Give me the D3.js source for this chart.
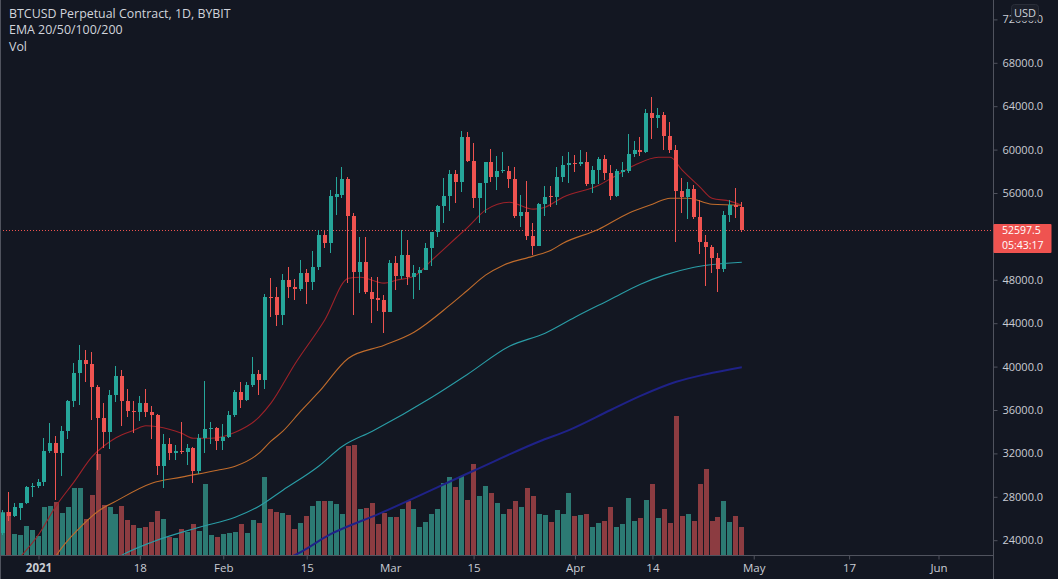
<!DOCTYPE html>
<html>
<head>
<meta charset="utf-8">
<script src="https://cdn.jsdelivr.net/npm/d3@7"></script>
<style>
  html, body { margin: 0; padding: 0; background: #131722; overflow: hidden; }
  svg { display: block; }
  text { font-family: "Open Sans", "Noto Sans", sans-serif; }
</style>
</head>
<body>
<div id="chart"></div>
<script>
// Daily candles from 2020-12-26 to 2021-04-29 (one value per day)
var firstDay = "2020-12-26", lastDay = "2021-04-29";

var open = [
  24700, 26600, 26250, 27000, 27400, 28900,
  29000, 29400, 32200, 33000, 32000, 34100, 36800, 39400, 40600, 40250, 38150, 35300, 34000, 37400, 39100, 36800,
  35950, 35850, 36650, 35850, 35500, 30800, 32900, 32050, 32250, 32150, 32500, 30400, 33450, 34250, 34300,
  33100, 33500, 35500, 37700, 36900, 38300, 39300, 38800, 46450, 46400, 44800, 47950, 47300, 47150, 48600, 47800,
  49150, 52100, 51400, 55650, 55800, 57300, 53900, 48700, 49650, 46900, 46300, 46100,
  45050, 49550, 48350, 50300, 48300, 48650, 48900, 50900, 52400, 54800, 55700, 57750, 57050, 61200, 58950, 55500,
  56900, 58900, 57500, 58000, 58030, 57250, 53900, 54250, 52050, 51150, 54950, 55700, 55650, 57500, 58600,
  58750, 58700, 58900, 56850, 58150, 59150, 57850, 55700, 57950, 58000, 59600, 60000, 59750, 63400, 62900, 63200,
  61250, 60000, 56150, 55600, 56350, 53800, 51500, 51000, 50000, 48950, 53950, 54900, 54750
];
var high = [
  26800, 28400, 27400, 27400, 28970, 29300,
  29600, 33400, 34800, 33600, 34500, 36900, 40300, 41950, 41500, 41300, 38300, 36600, 37800, 40100, 39700, 37900,
  36800, 37300, 37900, 36400, 35600, 33800, 33400, 32800, 34900, 32900, 32600, 33800, 38700, 34900, 34400,
  34700, 35900, 37800, 38600, 38600, 40900, 39700, 46700, 48200, 47300, 48500, 49200, 48100, 49800, 49000, 50700,
  52600, 52600, 56300, 57500, 58400, 57500, 54200, 51900, 51900, 48300, 48300, 46600,
  49800, 50200, 52600, 51700, 49400, 49200, 51400, 52400, 54900, 57400, 58100, 58100, 61700, 61600, 60600, 56900,
  58900, 60100, 59400, 59800, 58500, 58400, 55800, 57100, 53200, 55100, 56600, 56600, 58400, 59400, 59800,
  59500, 60000, 59800, 58500, 59300, 59500, 58600, 58200, 58900, 61400, 60800, 61200, 63700, 64850, 63800, 63500,
  62500, 60400, 57400, 57000, 56700, 55400, 52100, 51200, 50500, 54300, 55400, 56450, 55200
];
var low = [
  24500, 25800, 26100, 25900, 27300, 28000,
  28800, 29000, 32000, 27700, 29900, 33300, 36300, 36500, 38600, 35100, 30500, 32500, 32400, 36700, 34500, 35400,
  33900, 35000, 35400, 33300, 30000, 28800, 31400, 31400, 31900, 30900, 29300, 30100, 32000, 32900, 32300,
  32300, 33400, 35400, 36200, 36800, 38100, 37400, 37900, 44600, 43700, 43800, 46300, 46100, 47000, 45800, 47100,
  48900, 50900, 50500, 53950, 55500, 47700, 44800, 46800, 46700, 44000, 45100, 43100,
  45000, 47100, 48100, 47500, 46200, 47100, 48900, 49300, 51900, 53200, 54300, 55100, 56100, 58900, 54600, 53200,
  54200, 57000, 56300, 57800, 56500, 53700, 52900, 51700, 50300, 51100, 53900, 54700, 54900, 57000, 56900,
  57900, 58500, 56600, 56000, 56800, 57200, 55400, 55600, 57500, 57800, 59300, 59400, 59700, 61000, 62000, 60000,
  59700, 51500, 54200, 53600, 53600, 50400, 47400, 48600, 46900, 48700, 53300, 53650, 52400
];
var close = [
  26500, 26200, 27050, 27400, 28900, 29000,
  29400, 32200, 33000, 32000, 34100, 36800, 39400, 40600, 40250, 38150, 35300, 34000, 37400, 39100, 36800, 35900,
  35850, 36650, 35850, 35500, 30800, 32900, 32050, 32250, 32150, 32500, 30400, 33450, 34250, 34300, 33100,
  33500, 35500, 37700, 36900, 38300, 39300, 38800, 46400, 46400, 44800, 47950, 47300, 47150, 48600, 47800, 49150,
  52100, 51400, 55700, 55900, 57300, 53900, 48700, 49650, 46900, 46200, 46100, 45050,
  49550, 48350, 50300, 48300, 48650, 48900, 50900, 52400, 54800, 55700, 57750, 57050, 61200, 58950, 55500, 56900,
  58900, 57500, 58000, 58100, 57250, 53900, 54250, 52050, 51150, 54950, 55650, 55650, 57500, 58600, 58750,
  58700, 58900, 56850, 58150, 59150, 57850, 55700, 58050, 58100, 59600, 60000, 59800, 63400, 62900, 63200, 61250,
  60000, 56150, 55600, 56350, 53800, 51500, 51000, 50000, 48950, 53950, 54900, 54750, 52597.5
];
var volume = [
  43, 43, 21, 20, 29, 25,
  19, 48, 49, 53, 42, 48, 67, 67, 36, 60, 101, 50, 48, 41, 49, 35, 30, 27, 28, 33, 44, 36, 18, 17, 26, 23, 31, 24, 71, 20, 18,
  21, 22, 23, 31, 22, 35, 32, 78, 46, 43, 42, 40, 26, 32, 39, 49, 54, 54, 54, 51, 41, 109, 110, 46, 47, 52, 31, 42,
  38, 38, 46, 54, 46, 28, 33, 41, 46, 72, 78, 68, 79, 55, 91, 59, 69, 62, 52, 41, 46, 54, 48, 67, 59, 41, 40, 33, 45, 41, 62,
  39, 40, 41, 28, 32, 34, 48, 28, 31, 57, 34, 37, 55, 71, 37, 46, 32, 139, 39, 41, 34, 71, 86, 34, 38, 54, 33, 39, 28
];

// EMA lines
var ema20 = [
  ["2020-12-28", 21900], ["2021-01-01", 24500], ["2021-01-04", 27200], ["2021-01-07", 29400], ["2021-01-10", 31700],
  ["2021-01-12", 32700], ["2021-01-14", 33450], ["2021-01-17", 34140], ["2021-01-19", 34550], ["2021-01-21", 34450],
  ["2021-01-25", 33860], ["2021-01-27", 33400], ["2021-01-30", 33400], ["2021-02-03", 33950], ["2021-02-07", 35340],
  ["2021-02-09", 36630], ["2021-02-13", 40220], ["2021-02-18", 44280], ["2021-02-22", 48150], ["2021-02-24", 48240],
  ["2021-02-28", 47690], ["2021-03-02", 47960], ["2021-03-05", 48330], ["2021-03-08", 49810], ["2021-03-12", 51830],
  ["2021-03-14", 52840], ["2021-03-17", 54420], ["2021-03-21", 55150], ["2021-03-25", 54510], ["2021-03-27", 54690],
  ["2021-03-30", 55610], ["2021-04-05", 56720], ["2021-04-08", 57640], ["2021-04-11", 58560], ["2021-04-15", 59300],
  ["2021-04-17", 59300], ["2021-04-19", 58100], ["2021-04-22", 56540], ["2021-04-24", 55520], ["2021-04-27", 55250],
  ["2021-04-29", 54880]
];
var ema50 = [
  ["2021-01-03", 21700], ["2021-01-04", 22600], ["2021-01-08", 25180], ["2021-01-11", 26670], ["2021-01-14", 27600],
  ["2021-01-20", 29250], ["2021-01-25", 29810], ["2021-01-31", 30450], ["2021-02-03", 30820], ["2021-02-07", 32020],
  ["2021-02-09", 33125], ["2021-02-11", 34050], ["2021-02-14", 35890], ["2021-02-17", 37640], ["2021-02-22", 40775],
  ["2021-02-28", 41970], ["2021-03-05", 43170], ["2021-03-11", 45660], ["2021-03-14", 47040], ["2021-03-17", 48430],
  ["2021-03-20", 49350], ["2021-03-25", 50180], ["2021-03-28", 50730], ["2021-03-30", 51370], ["2021-04-05", 52660],
  ["2021-04-10", 54140], ["2021-04-14", 54970], ["2021-04-17", 55520], ["2021-04-20", 55520], ["2021-04-24", 54970],
  ["2021-04-29", 54880]
];
var ema100 = [
  ["2021-01-13", 21970], ["2021-01-15", 22620], ["2021-01-20", 23820], ["2021-01-28", 25200], ["2021-02-03", 26120],
  ["2021-02-07", 27130], ["2021-02-11", 28610], ["2021-02-17", 30820], ["2021-02-21", 32660], ["2021-02-26", 34050],
  ["2021-03-08", 37180], ["2021-03-14", 39300], ["2021-03-21", 41880], ["2021-03-27", 43080], ["2021-04-01", 44550],
  ["2021-04-07", 46210], ["2021-04-12", 47600], ["2021-04-16", 48430], ["2021-04-21", 49160], ["2021-04-29", 49620]
];
var ema200 = [
  ["2021-02-10", 21970], ["2021-02-13", 22620], ["2021-02-19", 24550], ["2021-02-27", 26400], ["2021-03-15", 30400],
  ["2021-03-26", 33100], ["2021-03-31", 34150], ["2021-04-07", 36000], ["2021-04-12", 37300], ["2021-04-18", 38600],
  ["2021-04-23", 39300], ["2021-04-29", 39950]
];

// 52000 is hidden behind the last price label, so it is not listed
var priceTicks = [24000, 28000, 32000, 36000, 40000, 44000, 48000, 56000, 60000, 64000, 68000, 72000];
var timeTicks = ["2021-01-01", "2021-01-18", "2021-02-01", "2021-02-15", "2021-03-01", "2021-03-15",
                 "2021-04-01", "2021-04-14", "2021-05-01", "2021-05-17", "2021-06-01"];
var timeLabels = ["2021", "18", "Feb", "15", "Mar", "15", "Apr", "14", "May", "17", "Jun"];
var lastPrice = 52597.5, countdown = "05:43:17";
var legendLines = ["BTCUSD Perpetual Contract, 1D, BYBIT", "EMA 20/50/100/200", "Vol"];

// Layout
var width = 1058, height = 579;
var paneRight = 993, paneBottom = 555;
var upColor = "#26a69a", downColor = "#ef5350";

var parse = d3.utcParse("%Y-%m-%d");
var days = d3.utcDay.range(parse(firstDay), d3.utcDay.offset(parse(lastDay), 1));
var bars = days.map(function(d, i) {
  return { date: d, o: open[i], h: high[i], l: low[i], c: close[i], v: volume[i] };
});

var x = d3.scaleUtc()
  .domain([parse("2021-01-01"), parse("2021-06-01")])
  .range([38.5, 938.5]);
var y = d3.scaleLinear().domain([24000, 72000]).range([540.2, 19.4]);
var yVol = d3.scaleLinear().domain([0, 140]).range([paneBottom, paneBottom - 140]);

var svg = d3.select("#chart").append("svg")
  .attr("width", width)
  .attr("height", height);

svg.append("rect").attr("width", width).attr("height", height).attr("fill", "#131722");

svg.append("clipPath").attr("id", "pane")
  .append("rect").attr("x", 0).attr("y", 0).attr("width", paneRight).attr("height", paneBottom);

var pane = svg.append("g").attr("clip-path", "url(#pane)");

// Volume bars
pane.append("g")
  .selectAll("rect")
  .data(bars)
  .enter()
  .append("rect")
  .attr("x", d => Math.round(x(d.date) - 2.5))
  .attr("y", d => yVol(d.v))
  .attr("width", 5)
  .attr("height", d => paneBottom - yVol(d.v))
  .attr("fill", d => d.c >= d.o ? "#2c7a73" : "#8c3c41")
  .attr("shape-rendering", "crispEdges");

// Last price line
pane.append("line")
  .attr("x1", 0).attr("x2", paneRight)
  .attr("y1", Math.round(y(lastPrice)) + 0.5).attr("y2", Math.round(y(lastPrice)) + 0.5)
  .attr("stroke", downColor)
  .attr("stroke-width", 1)
  .attr("stroke-dasharray", "1,2");

// EMA lines
var line = d3.line()
  .x(d => x(parse(d[0])))
  .y(d => y(d[1]))
  .curve(d3.curveMonotoneX);

[[ema200, "#1f2288", 2], [ema100, "#2a9da6", 1.1], [ema50, "#c06c2c", 1.1], [ema20, "#9e2229", 1.1]]
  .forEach(function(s) {
    pane.append("path")
      .attr("d", line(s[0]))
      .attr("fill", "none")
      .attr("stroke", s[1])
      .attr("stroke-width", s[2]);
  });

// Candles
var candles = pane.append("g").attr("shape-rendering", "crispEdges")
  .selectAll("g")
  .data(bars)
  .enter()
  .append("g");

candles.append("rect")
  .attr("x", d => Math.round(x(d.date) - 2) + 1)
  .attr("y", d => y(d.h))
  .attr("width", 1)
  .attr("height", d => Math.max(1, y(d.l) - y(d.h)))
  .attr("fill", d => d.c >= d.o ? upColor : downColor);

candles.append("rect")
  .attr("x", d => Math.round(x(d.date) - 2))
  .attr("y", d => y(Math.max(d.o, d.c)))
  .attr("width", 4)
  .attr("height", d => Math.max(1, Math.abs(y(d.o) - y(d.c))))
  .attr("fill", d => d.c >= d.o ? upColor : downColor);

// Axis lines
svg.append("line")
  .attr("x1", paneRight + 0.5).attr("x2", paneRight + 0.5)
  .attr("y1", 0).attr("y2", height)
  .attr("stroke", "#50535e");
svg.append("line")
  .attr("x1", 0).attr("x2", paneRight)
  .attr("y1", paneBottom + 0.5).attr("y2", paneBottom + 0.5)
  .attr("stroke", "#50535e");
svg.append("line")
  .attr("x1", 0.5).attr("x2", 0.5)
  .attr("y1", 0).attr("y2", height)
  .attr("stroke", "#50535e");

// Price axis
var yAxis = svg.append("g")
  .attr("transform", "translate(" + (paneRight + 0.5) + ",0)")
  .call(d3.axisRight(y).tickValues(priceTicks).tickFormat(d3.format(".1f")).tickSize(4).tickPadding(5));
yAxis.select(".domain").remove();
yAxis.selectAll("line").attr("stroke", "#50535e");
yAxis.selectAll("text")
  .attr("fill", "#c9ccd4")
  .style("font-size", "11px")
  .style("font-family", "\"Open Sans\", sans-serif");

// Time axis
var xAxis = svg.append("g")
  .attr("transform", "translate(0," + (paneBottom + 0.5) + ")")
  .call(d3.axisBottom(x)
    .tickValues(timeTicks.map(parse))
    .tickFormat((d, i) => timeLabels[i])
    .tickSize(4).tickPadding(4));
xAxis.select(".domain").remove();
xAxis.selectAll("line").attr("stroke", "#50535e");
xAxis.selectAll("text")
  .attr("fill", "#c9ccd4")
  .style("font-size", "11.5px")
  .style("font-family", "\"Open Sans\", sans-serif")
  .style("font-weight", (d, i) => i === 0 ? "700" : "400");

// USD badge (sits over the top tick label, as in the source)
svg.append("rect")
  .attr("x", 1011.5).attr("y", 4.5).attr("width", 27).attr("height", 16)
  .attr("rx", 3)
  .attr("fill", "#1b1f2a")
  .attr("stroke", "#2a2e39");
svg.append("text")
  .attr("x", 1025).attr("y", 16.5)
  .attr("text-anchor", "middle")
  .attr("fill", "#d1d4dc")
  .style("font-size", "11px")
  .text("USD");

// Last price label
svg.append("rect")
  .attr("x", paneRight + 0.5).attr("y", y(lastPrice) - 6)
  .attr("width", 58).attr("height", 29)
  .attr("rx", 1)
  .attr("fill", downColor);
svg.append("text")
  .attr("x", 1002).attr("y", y(lastPrice) + 4.5)
  .attr("fill", "#ffffff")
  .style("font-size", "10.5px")
  .text(d3.format(".1f")(lastPrice));
svg.append("text")
  .attr("x", 1002).attr("y", y(lastPrice) + 19.5)
  .attr("fill", "#ffffff")
  .style("font-size", "10.5px")
  .text(countdown);

// Legend
svg.append("g")
  .selectAll("text")
  .data(legendLines)
  .enter()
  .append("text")
  .attr("x", 9)
  .attr("y", (d, i) => 18 + i * 16.3)
  .attr("fill", "#d1d4dc")
  .style("font-size", "12.4px")
  .text(d => d);
</script>
</body>
</html>
